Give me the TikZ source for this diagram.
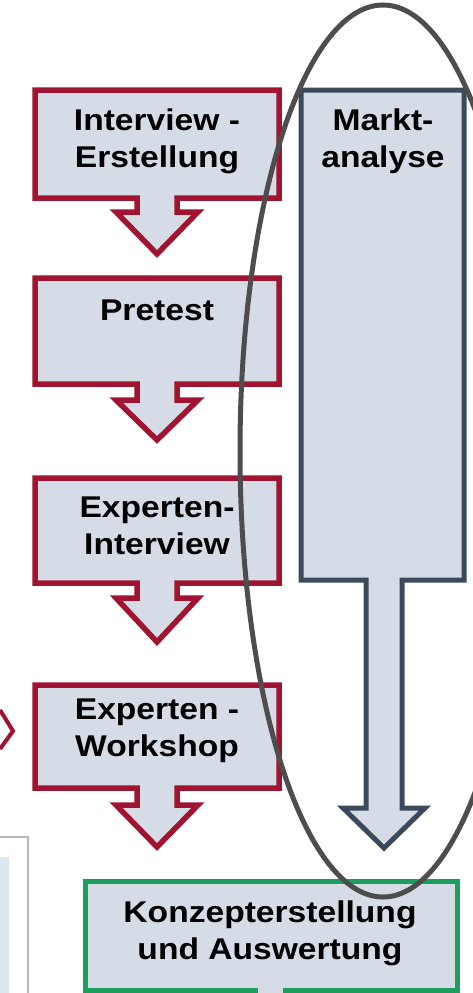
\documentclass[tikz,border=0pt]{standalone}
\usepackage{fontspec}
\setmainfont{Liberation Sans}[FakeStretch=1.12]
\definecolor{boxfill}{RGB}{214,220,229}
\definecolor{redline}{RGB}{160,20,50}
\definecolor{slateline}{RGB}{58,74,92}
\definecolor{greenline}{RGB}{30,158,94}
\definecolor{ellipseline}{RGB}{77,77,77}
\definecolor{panelblue}{RGB}{220,230,242}
\definecolor{panelgray}{RGB}{185,185,185}
\tikzset{
  redbox/.style={draw=redline, fill=boxfill, line width=5.5pt, line join=miter},
  slatebox/.style={draw=slateline, fill=boxfill, line width=5pt, line join=miter},
  greenbox/.style={draw=greenline, fill=boxfill, line width=5pt, line join=miter},
  lbl/.style={align=center, inner sep=0pt, font=\fontsize{30}{37}\selectfont\bfseries, text=black},
  ring/.style={draw=ellipseline, line width=5pt}
}
\newcommand\redcallout[4]{%
  \draw[redbox] (35,#1) -- (279,#1) -- (279,#2) -- (177,#2) -- (177,#3) -- (198,#3)
    -- (157,#4) -- (116,#3) -- (137,#3) -- (137,#2) -- (35,#2) -- cycle;}
\begin{document}
\begin{tikzpicture}[x=1pt,y=-1pt]
\useasboundingbox (0,0) rectangle (472,993);
\fill[white] (0,0) rectangle (472,993);
% bottom-left partial panel
\fill[panelblue] (0,857) rectangle (9,993);
\draw[panelgray, line width=1.5pt] (0,837) -- (28,837) -- (28,993);
% left chevron
\draw[redline, line width=4pt, line join=miter] (0,710) -- (13,731) -- (0,749);
% red callouts
\redcallout{90}{198}{212}{254}
\redcallout{278}{384}{400}{440}
\redcallout{478}{583}{598}{642}
\redcallout{685}{788}{805}{847}
% Marktanalyse
\draw[slatebox] (301,90) -- (464,90) -- (464,580) -- (402,580) -- (402,808) -- (425,808)
  -- (384,848) -- (343,808) -- (366,808) -- (366,580) -- (301,580) -- cycle;
% green box
\draw[greenbox] (255,1000) -- (255,990) -- (85,990) -- (85,881) -- (457,881) -- (457,990) -- (285,990) -- (285,1000);
\fill[boxfill] (257.5,985) rectangle (282.5,993);
% labels
\node[lbl] (t1) at (157,141) {Interview -\\Erstellung};
\node[lbl] (t2) at (157,310) {Pretest};
\node[lbl] (t3) at (157,526) {Experten-\\Interview};
\node[lbl] (t4) at (157,731) {Experten -\\Workshop};
\node[lbl] (tm) at (383,141) {Markt-\\analyse};
\node[lbl] (tk) at (270,933) {Konzepterstellung\\und Auswertung};
% ellipse
\draw[ring] (383,451) ellipse [x radius=143, y radius=446];
\end{tikzpicture}
\end{document}
